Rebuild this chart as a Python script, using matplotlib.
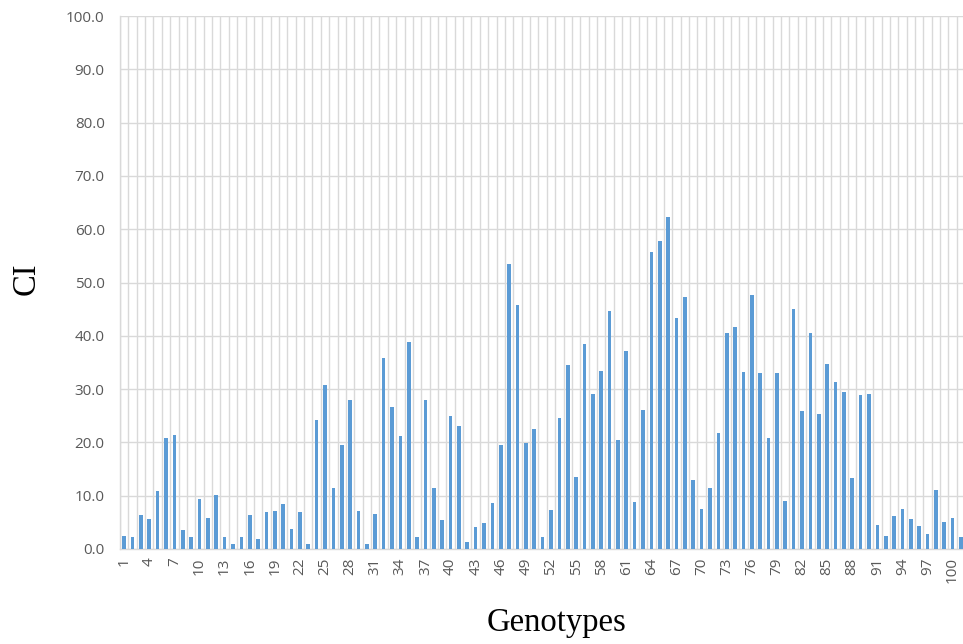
import matplotlib
matplotlib.use("Agg")
import matplotlib.pyplot as plt
import numpy as np

genotypes = list(range(1, 102))
ci_values = [
    2.5, 2.2, 6.3, 5.6, 10.8, 20.8, 21.3, 3.5, 2.2, 9.4,
    5.9, 10.2, 2.2, 0.9, 2.3, 6.3, 1.8, 6.9, 7.2, 8.5,
    3.8, 6.9, 0.9, 24.2, 30.7, 11.4, 19.6, 28.0, 7.2, 0.9,
    6.6, 35.8, 26.7, 21.2, 38.8, 2.2, 28.0, 11.4, 5.4, 25.0,
    23.0, 1.3, 4.2, 4.9, 8.7, 19.6, 53.4, 45.7, 19.9, 22.6,
    2.2, 7.3, 24.6, 34.5, 13.6, 38.4, 29.0, 33.4, 44.6, 20.5,
    37.1, 8.9, 26.0, 55.7, 57.7, 62.2, 43.3, 47.2, 12.9, 7.5,
    11.4, 21.8, 40.5, 41.6, 33.3, 47.7, 33.0, 20.8, 33.0, 9.0,
    45.0, 25.8, 40.5, 25.3, 34.8, 31.4, 29.4, 13.4, 28.9, 29.0,
    4.5, 2.5, 6.2, 7.5, 5.6, 4.4, 2.8, 11.0, 5.1, 5.8,
    2.2,
]
y_ticks = [0, 10, 20, 30, 40, 50, 60, 70, 80, 90, 100]
x_tick_labels = list(range(1, 101, 3))

W, H = 963, 644
fig = plt.figure(figsize=(W / 100, H / 100), dpi=100)
left, right, top, bottom = 120, 965.2, 16, 549
ax = fig.add_axes([left / W, (H - bottom) / H, (right - left) / W, (bottom - top) / H])

grid_c = "#d9d9d9"
ax.bar(genotypes, ci_values, width=0.43, color="#5b9bd5", zorder=3)

ax.set_xlim(0.5, 101.5)
ax.set_ylim(0, 100)

ax.set_yticks(y_ticks)
ax.set_yticklabels([f"{v:.1f}" for v in y_ticks])
ax.set_xticks(x_tick_labels)
ax.set_xticklabels([str(v) for v in x_tick_labels], rotation=90)
ax.set_xticks(np.arange(0.5, 102, 1.0), minor=True)

ax.tick_params(axis="both", which="both", length=0, colors="#595959")
ax.tick_params(axis="y", labelsize=11, pad=11)
ax.tick_params(axis="x", labelsize=11, pad=6)
for lab in ax.get_xticklabels() + ax.get_yticklabels():
    lab.set_fontfamily("Open Sans")

ax.grid(axis="y", which="major", color=grid_c, linewidth=1.0, zorder=0)
ax.grid(axis="x", which="minor", color=grid_c, linewidth=1.0, zorder=0)
ax.grid(axis="x", which="major", visible=False)

for s in ["top", "right"]:
    ax.spines[s].set_visible(False)
for s in ["left", "bottom"]:
    ax.spines[s].set_color(grid_c)
    ax.spines[s].set_linewidth(1.0)

fig.text(26 / W, 1 - 279 / H, "CI", rotation=90, ha="center", va="center",
         fontsize=23.5, family="Liberation Serif")
fig.text(557 / W, 1 - 623 / H, "Genotypes", ha="center", va="center",
         fontsize=23.5, family="Liberation Serif")

fig.savefig("out.png", dpi=100)
